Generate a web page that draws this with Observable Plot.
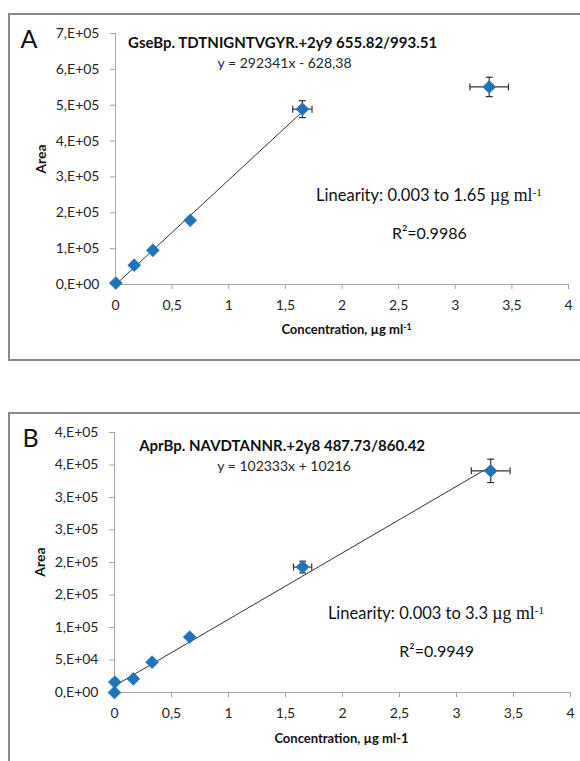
<!DOCTYPE html>
<html><head><meta charset="utf-8">
<script src="https://cdn.jsdelivr.net/npm/d3@7"></script>
<script src="https://cdn.jsdelivr.net/npm/@observablehq/plot@0.6"></script>
<style>
body{margin:0;background:#fff;}
#root{position:relative;width:580px;height:761px;overflow:hidden;background:#fff;font-family:Lato,sans-serif}
.frame{position:absolute;box-sizing:border-box;border:2px solid #8a8a8a}
.panel{position:absolute;left:0}
</style></head><body>
<div id="root">
 <div class="frame" style="left:8px;top:13px;width:600px;height:348px"></div>
 <div class="frame" style="left:8px;top:412px;width:600px;height:400px"></div>
 <div class="panel" id="pa" style="top:0"></div>
 <div class="panel" id="pb" style="top:370px"></div>
</div>
<script>
// ---- shared axis ticks ----
const xTicks = [0, 0.5, 1, 1.5, 2, 2.5, 3, 3.5, 4];
const xTickLabels = ["0", "0,5", "1", "1,5", "2", "2,5", "3", "3,5", "4"];

// ---- Panel A ----
const yTicksA = [0, 100000, 200000, 300000, 400000, 500000, 600000, 700000];
const yTickLabelsA = ["0,E+00", "1,E+05", "2,E+05", "3,E+05", "4,E+05", "5,E+05", "6,E+05", "7,E+05"];
const concA = [0.003, 0.165, 0.33, 0.66, 1.65, 3.3];
const areaA = [4000, 54000, 95500, 179000, 489000, 551000];
const xErrA = [0, 0, 0, 0, 0.085, 0.17];
const yErrA = [0, 0, 0, 0, 23500, 27000];
const trendXA = [0, 1.65];
const trendYA = [-628, 481734];
const letterA = "A";
const titleA = "GseBp. TDTNIGNTVGYR.+2y9 655.82/993.51";
const equationA = "y = 292341x - 628,38";
const linearityA = "Linearity: 0.003 to 1.65 ~µg ml~^-1";
const r2A = "R²=0.9986";
const xLabelA = "Concentration, µg ml^-1";
const yLabel = "Area";

// ---- Panel B ----
const yTicksB = [0, 50000, 100000, 150000, 200000, 250000, 300000, 350000, 400000];
const yTickLabelsB = ["0,E+00", "5,E+04", "1,E+05", "2,E+05", "2,E+05", "3,E+05", "3,E+05", "4,E+05", "4,E+05"];
const concB = [0, 0.003, 0.165, 0.33, 0.66, 1.65, 3.3];
const areaB = [0, 16000, 21000, 46700, 85200, 193000, 341000];
const xErrB = [0, 0, 0, 0, 0, 0.08, 0.17];
const yErrB = [0, 0, 0, 0, 0, 9000, 18000];
const trendXB = [0, 3.3];
const trendYB = [10216, 347915];
const letterB = "B";
const titleB = "AprBp. NAVDTANNR.+2y8 487.73/860.42";
const equationB = "y = 102333x + 10216";
const linearityB = "Linearity: 0.003 to 3.3 ~µg ml~^-1";
const r2B = "R²=0.9949";
const xLabelB = "Concentration, µg ml-1";

const BLUE = "#1f73ba";
const AXIS = "#a6a6a6";
const INK = "#262626";

const hCap = {draw(ctx, size) { const r = Math.sqrt(size / Math.PI); ctx.moveTo(-r, 0); ctx.lineTo(r, 0); }};
const vCap = {draw(ctx, size) { const r = Math.sqrt(size / Math.PI); ctx.moveTo(0, -r); ctx.lineTo(0, r); }};

function panel(c) {
  const pts = c.conc.map((x, i) => ({x, y: c.area[i], ex: c.xErr[i], ey: c.yErr[i]}));
  const eb = pts.filter(d => d.ex > 0 || d.ey > 0);
  const trend = c.trendX.map((x, i) => ({x, y: c.trendY[i]}));
  const yCaps = eb.flatMap(d => [{x: d.x, y: d.y - d.ey}, {x: d.x, y: d.y + d.ey}]);
  const xCaps = eb.flatMap(d => [{x: d.x - d.ex, y: d.y}, {x: d.x + d.ex, y: d.y}]);
  const T = c.text;
  const svg = Plot.plot({
    width: 580, height: c.height,
    marginLeft: c.ml, marginRight: c.mr, marginTop: c.mt, marginBottom: c.mb,
    style: {fontFamily: "Lato, sans-serif", fontSize: "14px", color: INK, background: "transparent", overflow: "visible"},
    x: {domain: [0, 4]},
    y: {domain: c.yDomain},
    marks: [
      Plot.ruleX([0], {stroke: AXIS}),
      Plot.ruleY([0], {stroke: AXIS}),
      Plot.axisY(c.yTicks, {tickSize: 5, tickPadding: 11, stroke: AXIS, fill: INK, fontSize: 14,
        tickFormat: d => c.yTickLabels[c.yTicks.indexOf(d)], label: null}),
      Plot.axisX(xTicks, {tickSize: 5, tickPadding: 11, stroke: AXIS, fill: INK, fontSize: 14,
        tickFormat: d => xTickLabels[xTicks.indexOf(d)], label: null}),
      Plot.line(trend, {x: "x", y: "y", stroke: "#333", strokeWidth: 1}),
      Plot.ruleY(eb, {y: "y", x1: d => d.x - d.ex, x2: d => d.x + d.ex, stroke: "#333", strokeWidth: 1.2}),
      Plot.ruleX(eb, {x: "x", y1: d => d.y - d.ey, y2: d => d.y + d.ey, stroke: "#333", strokeWidth: 1.2}),
      Plot.dot(yCaps, {x: "x", y: "y", symbol: hCap, r: 3.5, stroke: "#333", fill: "none", strokeWidth: 1.2}),
      Plot.dot(xCaps, {x: "x", y: "y", symbol: vCap, r: 3.5, stroke: "#333", fill: "none", strokeWidth: 1.2}),
      Plot.dot(pts, {x: "x", y: "y", symbol: "diamond2", r: 5.8, fill: BLUE, stroke: "#2a7fc6", strokeWidth: 0.8}),
      Plot.text([c.letter], {frameAnchor: "top-left", dx: T.letter[0], dy: T.letter[1], textAnchor: "start", lineAnchor: "middle", fontSize: 25, fill: "#111"}),
      Plot.text([c.title], {frameAnchor: "top-left", dx: T.title[0], dy: T.title[1], textAnchor: "start", lineAnchor: "middle", fontSize: 15, fontWeight: "bold", fill: "#111"}),
      Plot.text([c.equation], {frameAnchor: "top-left", dx: T.eq[0], dy: T.eq[1], textAnchor: "middle", lineAnchor: "middle", fontSize: 14, fill: INK}),
      Plot.text([c.linearity], {frameAnchor: "top-left", dx: T.lin[0], dy: T.lin[1], textAnchor: "start", lineAnchor: "middle", fontSize: 16.5, fill: "#111"}),
      Plot.text([c.r2], {frameAnchor: "top-left", dx: T.r2[0], dy: T.r2[1], textAnchor: "start", lineAnchor: "middle", fontSize: 16, fill: "#111"}),
      Plot.text([c.xLabel], {frameAnchor: "bottom", dx: T.xl[0], dy: T.xl[1], textAnchor: "middle", lineAnchor: "middle", fontSize: 13, fontWeight: "bold", fill: "#111"}),
      Plot.text([yLabel], {frameAnchor: "left", dx: T.yl[0], dy: T.yl[1], rotate: -90, textAnchor: "middle", lineAnchor: "middle", fontSize: 14, fontWeight: "bold", fill: "#111"})
    ]
  });
  enrich(svg);
  return svg;
}

// Turn "~serif~" segments and trailing "^sup" into tspans
function enrich(svg) {
  d3.select(svg).selectAll("text").each(function() {
    const t = this.textContent;
    if (!t.includes("~") && !t.includes("^")) return;
    const [main, sup] = t.split("^");
    const parts = main.split("~");
    this.textContent = "";
    let lastSerif = false;
    parts.forEach((p, i) => {
      if (!p) return;
      const ts = d3.select(this).append("tspan").text(p);
      if (i % 2 === 1) { ts.attr("font-family", "'Liberation Serif', serif").attr("font-size", "1.08em"); lastSerif = true; }
      else lastSerif = false;
    });
    if (sup) {
      const s = d3.select(this).append("tspan").text(sup).attr("dy", "-0.45em").attr("font-size", "0.68em");
      if (lastSerif) s.attr("font-family", "'Liberation Serif', serif");
    }
  });
}

document.getElementById("pa").appendChild(panel({
  height: 370, ml: 115, mr: 12, mt: 33, mb: 86,
  yDomain: [0, 700000], yTicks: yTicksA, yTickLabels: yTickLabelsA,
  conc: concA, area: areaA, xErr: xErrA, yErr: yErrA, trendX: trendXA, trendY: trendYA,
  letter: letterA, title: titleA, equation: equationA, linearity: linearityA, r2: r2A, xLabel: xLabelA,
  text: {letter: [-95, 6], title: [12.6, 10], eq: [169, 30], lin: [200.6, 162], r2: [276.4, 200], xl: [4.5, 45.7], yl: [-74.3, 0]}
}));

document.getElementById("pb").appendChild(panel({
  height: 391, ml: 114, mr: 10, mt: 62, mb: 69,
  yDomain: [0, 400000], yTicks: yTicksB, yTickLabels: yTickLabelsB,
  conc: concB, area: areaB, xErr: xErrB, yErr: yErrB, trendX: trendXB, trendY: trendYB,
  letter: letterB, title: titleB, equation: equationB, linearity: linearityB, r2: r2B, xLabel: xLabelB,
  text: {letter: [-92, 6.7], title: [24.7, 13.7], eq: [169.6, 34.4], lin: [213.4, 181.7], r2: [284.8, 219.4], xl: [-1, 46], yl: [-74, -0.5]}
}));
</script>
</body></html>
